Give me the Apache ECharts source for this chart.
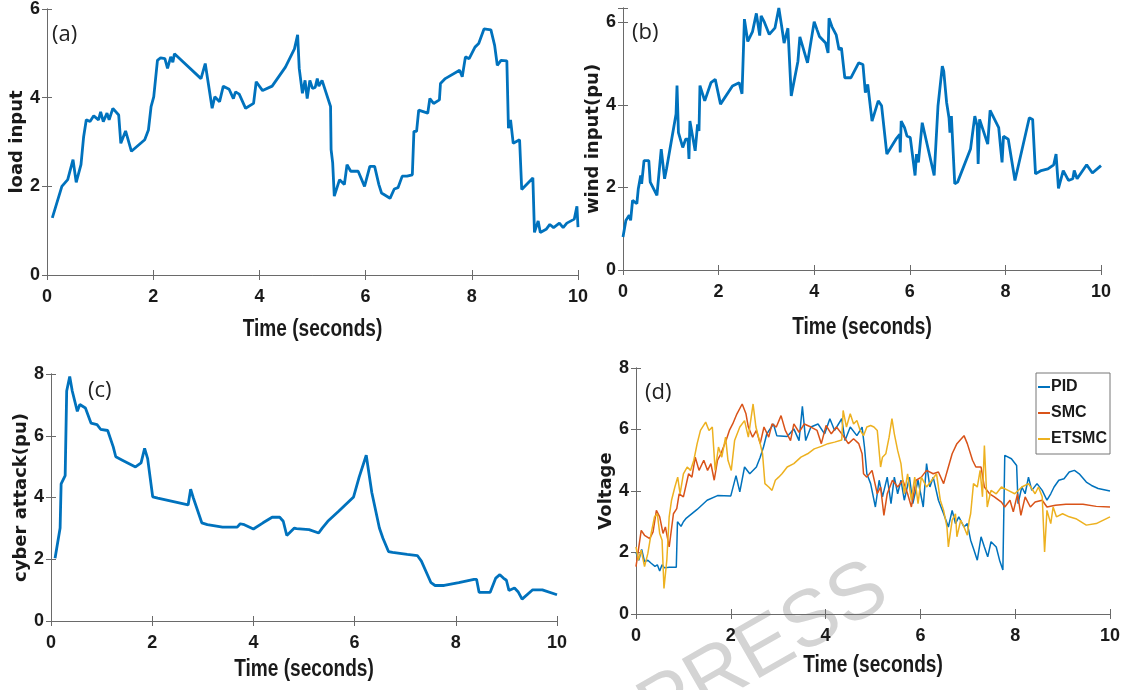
<!DOCTYPE html>
<html>
<head>
<meta charset="utf-8">
<script src="https://cdn.jsdelivr.net/npm/echarts@6/dist/echarts.min.js"></script>
<style>
  html, body { margin: 0; padding: 0; background: #fff; }
  #chart { width: 1125px; height: 690px; }
</style>
</head>
<body>
<div id="chart"></div>
<script>
// ---- (a) load input ----
const loadT = [0.1,0.28,0.39,0.49,0.55,0.64,0.69,0.74,0.81,0.88,0.97,1.01,1.06,1.13,1.17,1.24,1.35,1.39,1.48,1.59,1.84,1.91,1.96,2.01,2.08,2.14,2.22,2.27,2.33,2.37,2.4,2.9,2.98,3.11,3.16,3.25,3.32,3.43,3.51,3.55,3.62,3.74,3.89,3.94,4.06,4.24,4.49,4.66,4.72,4.75,4.81,4.86,4.9,4.95,5.0,5.05,5.09,5.12,5.18,5.34,5.35,5.38,5.41,5.51,5.6,5.65,5.72,5.86,5.98,6.08,6.17,6.25,6.3,6.46,6.54,6.61,6.69,6.78,6.88,6.91,6.96,7.0,7.17,7.21,7.28,7.39,7.41,7.5,7.77,7.82,7.88,7.95,8.06,8.13,8.23,8.36,8.43,8.48,8.55,8.66,8.69,8.73,8.78,8.9,8.94,9.15,9.18,9.25,9.29,9.4,9.47,9.54,9.65,9.72,9.79,9.93,9.98,10.0];
const loadV = [1.29,2.0,2.15,2.6,2.09,2.49,3.12,3.5,3.46,3.59,3.5,3.68,3.46,3.65,3.5,3.76,3.61,2.97,3.25,2.79,3.05,3.27,3.8,4.02,4.84,4.9,4.88,4.66,4.92,4.8,4.99,4.43,4.77,3.76,4.02,3.91,4.26,4.19,3.98,4.13,4.08,3.76,3.87,4.36,4.16,4.26,4.69,5.1,5.42,4.66,4.1,4.39,3.98,4.39,4.21,4.23,4.43,4.26,4.39,3.8,2.83,2.53,1.78,2.15,2.04,2.49,2.34,2.34,2.0,2.45,2.45,2.04,1.85,1.73,1.94,1.97,2.23,2.23,2.26,3.24,3.24,3.72,3.65,3.98,3.87,3.95,4.32,4.43,4.62,4.47,4.92,4.88,5.14,5.22,5.55,5.53,5.18,4.73,4.84,4.83,3.31,3.5,2.97,3.05,1.93,2.19,0.96,1.22,0.96,1.03,1.14,1.07,1.17,1.07,1.17,1.26,1.55,1.08];

// ---- (b) wind input ----
const windT = [0,0.06,0.13,0.16,0.2,0.29,0.32,0.37,0.39,0.44,0.54,0.57,0.71,0.8,0.87,0.91,1.11,1.13,1.16,1.25,1.31,1.36,1.38,1.4,1.46,1.51,1.56,1.59,1.61,1.71,1.84,1.93,2.04,2.29,2.43,2.49,2.54,2.61,2.71,2.79,2.86,2.89,2.96,3.06,3.18,3.26,3.32,3.37,3.45,3.52,3.66,3.7,3.86,4.0,4.06,4.11,4.24,4.29,4.31,4.37,4.46,4.52,4.57,4.64,4.77,4.93,5.02,5.07,5.12,5.21,5.34,5.41,5.52,5.71,5.79,5.8,5.82,5.89,5.94,6.01,6.11,6.14,6.18,6.26,6.51,6.59,6.68,6.71,6.77,6.82,6.84,6.87,6.94,7.0,7.27,7.36,7.41,7.43,7.46,7.63,7.68,7.86,7.93,7.96,8.06,8.2,8.5,8.57,8.63,8.75,8.89,9.01,9.06,9.11,9.21,9.32,9.41,9.44,9.5,9.7,9.82,10.0];
const windV = [0.8,1.2,1.33,1.2,1.69,1.61,1.97,2.29,2.09,2.65,2.65,2.13,1.81,2.93,2.21,2.45,3.78,4.47,3.33,2.97,3.17,3.17,2.69,3.61,3.21,2.89,3.53,3.37,4.47,4.1,4.54,4.62,4.02,4.46,4.54,4.27,6.08,5.54,5.78,6.22,5.68,6.16,6.0,5.71,5.87,6.35,5.9,5.5,5.86,4.22,5.06,5.65,5.02,6.02,5.82,5.66,5.5,5.26,6.1,5.9,5.7,5.34,5.38,4.66,4.66,5.02,4.98,4.3,4.5,3.61,4.1,3.98,2.81,3.17,3.29,2.85,3.61,3.45,3.25,3.21,2.29,2.81,2.61,3.57,2.29,3.98,4.94,4.82,4.06,3.69,3.33,3.73,2.09,2.13,2.93,3.73,3.49,2.57,3.65,3.05,3.87,3.45,2.61,3.24,3.17,2.17,3.69,3.65,2.33,2.41,2.45,2.55,2.81,1.98,2.41,2.17,2.21,2.41,2.21,2.55,2.35,2.53];

// ---- (c) cyber attack ----
const attackT = [0.08,0.18,0.2,0.28,0.31,0.37,0.42,0.52,0.57,0.68,0.79,0.91,0.98,1.12,1.23,1.28,1.41,1.67,1.78,1.85,1.91,2.01,2.11,2.71,2.76,2.81,2.98,3.09,3.39,3.68,3.74,3.82,4.0,4.19,4.37,4.52,4.59,4.66,4.81,4.85,5.1,5.29,5.36,5.47,5.69,5.98,6.09,6.23,6.34,6.49,6.56,6.67,6.75,7.04,7.24,7.32,7.51,7.59,7.77,8.06,8.36,8.41,8.46,8.68,8.79,8.87,8.94,9.0,9.05,9.16,9.23,9.31,9.52,9.71,10.0];
const attackV = [2.03,3.01,4.44,4.71,7.45,7.92,7.45,6.79,7.01,6.9,6.41,6.36,6.21,6.17,5.64,5.32,5.21,4.99,5.12,5.59,5.26,4.02,3.98,3.76,4.27,4.0,3.18,3.12,3.04,3.04,3.15,3.12,2.98,3.18,3.36,3.36,3.23,2.77,3.01,2.99,2.96,2.85,3.01,3.23,3.56,4.02,4.66,5.37,4.16,3.01,2.68,2.25,2.22,2.16,2.12,1.94,1.24,1.15,1.15,1.24,1.35,1.35,0.93,0.93,1.39,1.5,1.39,1.32,0.99,1.07,0.95,0.71,1.01,1.01,0.85];

// ---- (d) voltage under three controllers ----
const pidT = [0,0.06,0.12,0.18,0.25,0.32,0.4,0.45,0.5,0.55,0.6,0.7,0.85,0.875,0.95,1.0,1.05,1.29,1.5,1.72,2.0,2.11,2.19,2.29,2.4,2.54,2.62,2.69,2.76,2.9,2.97,3.19,3.33,3.44,3.51,3.58,3.69,3.84,3.98,4.09,4.19,4.34,4.41,4.52,4.66,4.77,4.82,4.87,4.95,5.05,5.13,5.2,5.3,5.38,5.45,5.52,5.59,5.66,5.77,5.84,5.95,6.06,6.13,6.2,6.27,6.38,6.49,6.59,6.67,6.74,6.81,6.92,6.99,7.06,7.13,7.2,7.28,7.35,7.42,7.49,7.6,7.67,7.74,7.78,7.92,8.03,8.06,8.14,8.21,8.28,8.35,8.46,8.57,8.67,8.75,8.82,8.92,9.03,9.14,9.25,9.35,9.5,9.61,9.75,10.0];
const pidV = [2.0,1.75,2.1,1.7,1.75,1.65,1.55,1.6,1.4,1.6,1.5,1.52,1.52,3.0,2.85,3.0,3.1,3.4,3.7,3.85,3.84,4.5,3.97,4.78,4.56,4.78,5.1,5.43,5.86,6.18,5.8,5.77,6.02,5.64,6.75,5.64,6.08,6.18,5.86,6.35,5.97,6.35,5.64,6.08,5.8,6.08,5.43,4.56,4.24,3.48,4.35,3.81,4.45,3.59,4.45,3.91,4.35,3.7,4.45,3.59,4.35,3.48,4.89,4.13,4.45,3.7,3.26,2.83,3.37,2.94,3.16,2.83,2.94,2.4,2.08,1.75,2.51,2.18,1.86,2.35,2.18,1.75,1.43,5.16,5.05,4.83,3.59,4.13,3.91,4.45,4.02,4.24,4.02,3.7,3.91,4.13,4.35,4.4,4.62,4.67,4.56,4.29,4.18,4.08,4.0];
const smcT = [0,0.11,0.18,0.29,0.36,0.43,0.5,0.57,0.62,0.7,0.79,0.86,0.91,1.0,1.11,1.18,1.25,1.33,1.43,1.51,1.58,1.65,1.72,1.79,1.9,1.97,2.04,2.13,2.24,2.32,2.37,2.46,2.54,2.62,2.7,2.8,2.87,2.96,3.06,3.15,3.26,3.33,3.44,3.55,3.69,3.82,3.91,4.01,4.12,4.23,4.37,4.48,4.59,4.7,4.77,4.8,4.87,4.98,5.09,5.16,5.23,5.3,5.41,5.52,5.63,5.73,5.81,5.91,6.02,6.13,6.27,6.38,6.49,6.59,6.67,6.77,6.92,6.99,7.1,7.17,7.28,7.35,7.46,7.56,7.71,7.78,7.89,7.96,8.05,8.12,8.21,8.32,8.42,8.57,8.67,8.85,9.07,9.43,9.71,10.0];
const smcV = [1.54,2.72,2.56,2.45,2.67,3.37,3.16,2.62,2.83,2.18,3.26,3.43,3.91,3.81,4.56,4.45,5.1,4.67,5.0,4.67,4.89,4.35,5.0,5.21,5.64,5.97,6.18,6.51,6.83,6.51,6.08,5.75,5.97,5.54,6.08,5.75,6.18,6.08,6.45,5.97,5.64,6.18,5.91,6.18,6.08,5.97,5.54,6.13,5.86,6.08,5.8,5.54,5.7,5.54,5.21,4.56,4.45,4.67,3.91,4.13,3.21,3.91,4.35,4.13,4.35,3.91,3.48,4.35,4.45,4.67,4.56,4.62,4.24,4.78,5.21,5.54,5.8,5.54,5.0,4.78,4.78,4.13,3.91,3.81,3.64,3.48,3.7,3.32,3.91,3.21,3.81,3.48,3.64,3.7,3.48,3.54,3.57,3.57,3.5,3.48];
const etsmcT = [0,0.05,0.11,0.18,0.25,0.32,0.39,0.45,0.5,0.55,0.59,0.65,0.7,0.75,0.82,0.88,0.93,1.0,1.08,1.15,1.22,1.29,1.36,1.47,1.54,1.61,1.67,1.74,1.81,1.89,1.94,2.01,2.08,2.19,2.29,2.37,2.44,2.47,2.53,2.62,2.67,2.72,2.8,2.87,2.94,3.01,3.08,3.19,3.33,3.48,3.62,3.76,3.91,4.05,4.19,4.34,4.37,4.44,4.52,4.59,4.66,4.73,4.8,4.87,4.95,5.02,5.09,5.16,5.2,5.27,5.34,5.4,5.45,5.52,5.59,5.66,5.73,5.81,5.88,5.95,6.02,6.13,6.24,6.34,6.42,6.49,6.56,6.59,6.67,6.74,6.77,6.85,6.92,6.99,7.03,7.06,7.12,7.2,7.26,7.31,7.35,7.41,7.49,7.6,7.71,7.85,7.99,8.14,8.28,8.42,8.49,8.57,8.62,8.67,8.75,8.8,8.87,9.0,9.14,9.28,9.5,9.71,10.0];
const etsmcV = [2.18,1.75,2.08,1.54,1.97,2.62,3.16,3.26,2.62,2.4,0.83,1.75,3.16,3.7,4.13,4.45,3.91,4.56,4.78,4.67,5.0,5.54,5.97,6.24,5.97,6.08,4.67,5.43,5.1,5.75,5.0,4.67,5.64,6.08,6.29,5.75,6.51,6.83,6.08,5.54,5.21,4.24,4.13,4.02,4.35,4.45,4.56,4.78,4.89,5.1,5.21,5.37,5.45,5.54,5.59,5.66,6.62,6.08,6.51,6.18,6.29,5.97,5.8,6.08,6.13,6.08,5.97,4.78,5.1,5.21,5.75,6.35,5.86,5.32,4.89,3.91,4.56,3.7,4.45,3.59,4.45,4.13,4.35,4.56,3.7,3.37,2.83,2.18,3.05,3.26,2.51,3.05,2.83,2.56,3.05,3.26,4.24,4.13,4.67,3.81,5.48,3.48,4.02,3.91,4.13,4.02,3.91,4.13,4.24,3.91,4.13,3.81,2.02,3.37,2.94,3.48,3.16,3.26,3.16,3.1,2.89,2.94,3.16];

const seriesNames = ['PID', 'SMC', 'ETSMC'];
const xName = 'Time (seconds)';

const LABEL_FONT = "'Liberation Sans',Arial,sans-serif";
const NAME_FONT = "'DejaVu Sans',Verdana,sans-serif";
const AXIS_COLOR = '#6a6a6a';
const TEXT_COLOR = '#1a1a1a';
const BLUE = '#0072BD', ORANGE = '#D95319', YELLOW = '#EDB120';

const zip = (t, v) => t.map((x, i) => [x, v[i]]);

// Panel frames (pixel boxes) and axis settings
const panels = [
  { box: { left: 47,  top: 9,   width: 531, height: 266 }, yMax: 6,    yName: 'load input',       yGap: 20, xNameDy: 55, tag: '(a)', tagPos: [52, 24] },
  { box: { left: 623, top: 8,   width: 478, height: 262 }, yMax: 6.35, yName: 'wind input(pu)',   yGap: 13, xNameDy: 58, tag: '(b)', tagPos: [632, 22] },
  { box: { left: 51,  top: 374, width: 506, height: 247 }, yMax: 8,    yName: 'cyber attack(pu)', yGap: 14, xNameDy: 49, tag: '(c)', tagPos: [88, 380] },
  { box: { left: 636, top: 368, width: 474, height: 246 }, yMax: 8,    yName: 'Voltage',          yGap: 16, xNameDy: 52, tag: '(d)', tagPos: [645, 382] }
];

const grid = [], xAxis = [], yAxis = [], graphic = [];

const lineCfg = { show: true, lineStyle: { color: AXIS_COLOR, width: 1 } };
const tickCfg = { show: true, inside: true, length: 5, lineStyle: { color: AXIS_COLOR, width: 1 } };
const labelFont = { fontFamily: LABEL_FONT, fontWeight: 'bold', fontSize: 18, color: TEXT_COLOR };

panels.forEach((p, i) => {
  const b = p.box;
  grid.push(Object.assign({ containLabel: false }, b));
  // bottom / left axes carry labels; top / right axes close the box
  xAxis.push({
    type: 'value', gridIndex: i, min: 0, max: 10, interval: 2, position: 'bottom',
    axisLine: lineCfg, axisTick: tickCfg, splitLine: { show: false },
    axisLabel: Object.assign({ margin: 13 }, labelFont)
  });
  xAxis.push({
    type: 'value', gridIndex: i, min: 0, max: 10, interval: 2, position: 'top',
    axisLine: lineCfg, axisTick: tickCfg, splitLine: { show: false }, axisLabel: { show: false }
  });
  yAxis.push({
    type: 'value', gridIndex: i, min: 0, max: p.yMax, interval: 2, position: 'left',
    axisLine: lineCfg, axisTick: tickCfg, splitLine: { show: false },
    axisLabel: Object.assign({
      margin: 7,
      formatter: v => (Math.abs(v % 2) < 1e-9 ? String(v) : '')
    }, labelFont),
    name: p.yName, nameLocation: 'middle', nameGap: p.yGap, nameRotate: 90,
    nameTextStyle: { fontFamily: NAME_FONT, fontWeight: 'bold', fontSize: 18, color: TEXT_COLOR }
  });
  yAxis.push({
    type: 'value', gridIndex: i, min: 0, max: p.yMax, interval: 2, position: 'right',
    axisLine: lineCfg, axisTick: tickCfg, splitLine: { show: false }, axisLabel: { show: false }
  });
  // x-axis title in a narrow bold face, centred under the panel
  graphic.push({
    type: 'text', x: b.left + b.width / 2, y: b.top + b.height + p.xNameDy, scaleX: 0.83, z: 10,
    style: {
      text: xName, font: "bold 23px 'Liberation Sans',Arial,sans-serif",
      fill: TEXT_COLOR, align: 'center', verticalAlign: 'middle'
    }
  });
  graphic.push({
    type: 'text', left: p.tagPos[0], top: p.tagPos[1], z: 10,
    style: { text: p.tag, font: "normal 22px 'Open Sans','Liberation Sans',sans-serif", fill: '#222' }
  });
});

// faint diagonal stamp across the lower right panel
graphic.push({
  type: 'text', x: 764, y: 650, rotation: 0.52, z: 0,
  style: {
    text: 'PRESS', font: "normal 80px 'Liberation Sans',Arial,sans-serif",
    fill: '#d4d4d4', align: 'center', verticalAlign: 'middle'
  }
});

const line = (name, data, color, width, idx) => ({
  name, type: 'line', data, xAxisIndex: idx * 2, yAxisIndex: idx * 2,
  showSymbol: false, symbol: 'none', clip: true, z: 3,
  lineStyle: { color, width }, itemStyle: { color }
});

const option = {
  animation: false,
  backgroundColor: '#ffffff',
  grid, xAxis, yAxis, graphic,
  legend: {
    data: seriesNames,
    orient: 'vertical', left: 1036, top: 373,
    backgroundColor: '#fff', borderColor: '#777', borderWidth: 1,
    padding: [6, 3, 7, 2], itemGap: 10, itemWidth: 12, itemHeight: 2,
    icon: 'rect',
    textStyle: { fontFamily: LABEL_FONT, fontWeight: 'bold', fontSize: 16, color: TEXT_COLOR, padding: [0, 0, 0, -4] }
  },
  series: [
    line('load', zip(loadT, loadV), BLUE, 2.8, 0),
    line('wind', zip(windT, windV), BLUE, 2.8, 1),
    line('attack', zip(attackT, attackV), BLUE, 2.8, 2),
    line(seriesNames[0], zip(pidT, pidV), BLUE, 1.5, 3),
    line(seriesNames[1], zip(smcT, smcV), ORANGE, 1.5, 3),
    line(seriesNames[2], zip(etsmcT, etsmcV), YELLOW, 1.5, 3)
  ]
};

const chart = echarts.init(document.getElementById('chart'), null, { renderer: 'canvas' });
chart.setOption(option);
</script>
</body>
</html>
